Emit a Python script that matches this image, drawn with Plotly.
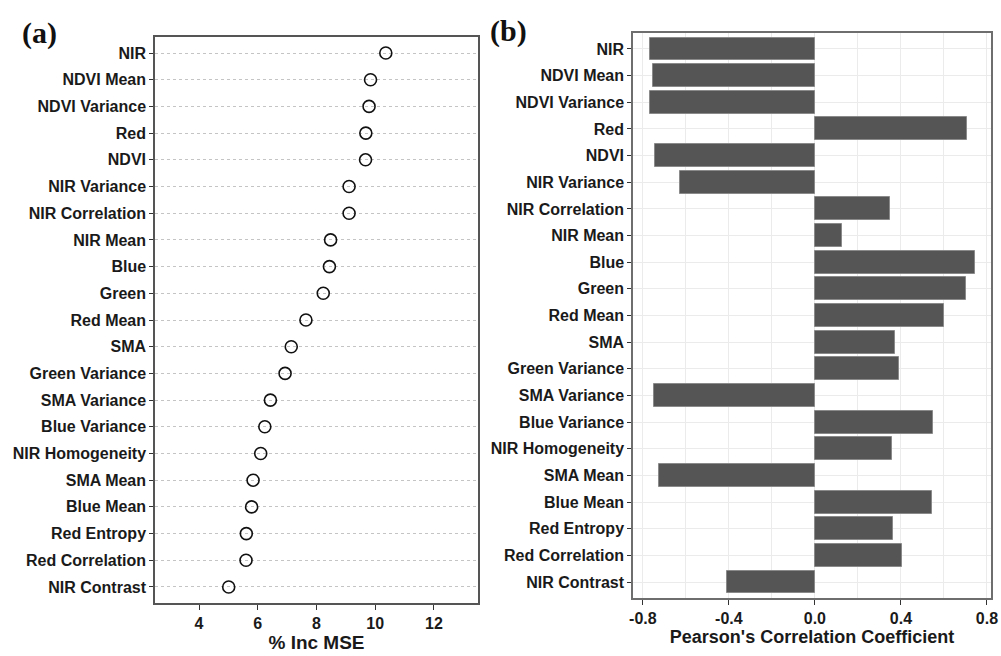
import plotly.graph_objects as go

# Variable names, top to bottom
features = [
    "NIR", "NDVI Mean", "NDVI Variance", "Red", "NDVI", "NIR Variance",
    "NIR Correlation", "NIR Mean", "Blue", "Green", "Red Mean", "SMA",
    "Green Variance", "SMA Variance", "Blue Variance", "NIR Homogeneity",
    "SMA Mean", "Blue Mean", "Red Entropy", "Red Correlation", "NIR Contrast",
]

# (a) random forest importance, % increase in MSE
inc_mse = [
    10.36, 9.84, 9.79, 9.68, 9.67, 9.11, 9.11, 8.48, 8.44, 8.23, 7.64,
    7.14, 6.93, 6.43, 6.24, 6.10, 5.84, 5.79, 5.61, 5.60, 5.01,
]

# (b) Pearson's correlation coefficient
pearson_r = [
    -0.767, -0.755, -0.767, 0.709, -0.743, -0.626, 0.349, 0.126, 0.743,
    0.704, 0.602, 0.371, 0.389, -0.750, 0.549, 0.358, -0.727, 0.544,
    0.364, 0.403, -0.409,
]

x_ticks_a = [4, 6, 8, 10, 12]
x_ticks_b = [-0.8, -0.4, 0.0, 0.4, 0.8]
x_ticktext_b = ["-0.8", "-0.4", "0.0", "0.4", "0.8"]

W, H = 1001, 656
font_family = "Liberation Sans, Arial, sans-serif"
tick_font = dict(family=font_family, size=16, color="#1a1a1a", weight="bold")
xtick_font = dict(family=font_family, size=16, color="#1a1a1a", weight="bold")

fig = go.Figure()

fig.add_trace(go.Scatter(
    x=inc_mse, y=features, mode="markers",
    marker=dict(symbol="circle-open", size=12, color="#111111",
                line=dict(width=1.6, color="#111111")),
    xaxis="x", yaxis="y", showlegend=False, hoverinfo="x+y",
))

fig.add_trace(go.Bar(
    x=pearson_r, y=features, orientation="h", width=0.86,
    marker=dict(color="#555555", line=dict(color="#8a8a8a", width=1)),
    xaxis="x2", yaxis="y2", showlegend=False,
))

fig.update_layout(
    width=W, height=H,
    margin=dict(l=0, r=0, t=0, b=0),
    paper_bgcolor="white", plot_bgcolor="white",
    font=dict(family=font_family, color="#1a1a1a"),
    bargap=0,
    xaxis=dict(
        domain=[155 / W, 478 / W], anchor="y", range=[2.5, 13.5],
        tickvals=x_ticks_a, ticks="outside", ticklen=5, tickcolor="#333",
        tickfont=xtick_font,
        showgrid=False, zeroline=False,
        showline=True, mirror=True, linecolor="#555555", linewidth=1.5,
        title=dict(text="<b>% Inc MSE</b>", font=dict(size=19), standoff=2),
        automargin=False,
    ),
    yaxis=dict(
        domain=[1 - 603 / H, 1 - 37 / H], anchor="x",
        type="category", categoryorder="array", categoryarray=features,
        range=[len(features) - 0.4, -0.6],
        ticks="outside", ticklen=4, tickcolor="#333",
        tickfont=tick_font,
        showgrid=True, gridcolor="#c4c4c4", griddash="dot", gridwidth=1,
        zeroline=False,
        showline=True, mirror=True, linecolor="#555555", linewidth=1.5,
        automargin=False,
    ),
    xaxis2=dict(
        domain=[633 / W, 991 / W], anchor="y2", range=[-0.846, 0.819],
        tickvals=x_ticks_b, ticktext=x_ticktext_b,
        ticks="outside", ticklen=5, tickcolor="#333",
        tickfont=xtick_font,
        showgrid=True, gridcolor="#ebebeb", gridwidth=1.2,
        minor=dict(dtick=0.2, tick0=0, showgrid=True, gridcolor="#ebebeb",
                   gridwidth=1.2),
        zeroline=False,
        showline=True, mirror=True, linecolor="#6e6e6e", linewidth=1.5,
        title=dict(text="<b>Pearson's Correlation Coefficient</b>",
                   font=dict(size=18), standoff=2),
        automargin=False,
    ),
    yaxis2=dict(
        domain=[1 - 598 / H, 1 - 33 / H], anchor="x2",
        type="category", categoryorder="array", categoryarray=features,
        range=[len(features) - 0.4, -0.6],
        ticks="outside", ticklen=4, tickcolor="#333",
        tickfont=tick_font,
        showgrid=True, gridcolor="#ebebeb", gridwidth=1.2,
        zeroline=False,
        showline=True, mirror=True, linecolor="#6e6e6e", linewidth=1.5,
        automargin=False,
    ),
    annotations=[
        dict(text="<b>(a)</b>", x=20 / W, y=1 - 33 / H, xref="paper",
             yref="paper", xanchor="left", yanchor="middle", showarrow=False,
             font=dict(family="Liberation Serif, Times New Roman, serif",
                       size=30, color="#111")),
        dict(text="<b>(b)</b>", x=488 / W, y=1 - 31 / H, xref="paper",
             yref="paper", xanchor="left", yanchor="middle", showarrow=False,
             font=dict(family="Liberation Serif, Times New Roman, serif",
                       size=30, color="#111")),
    ],
)

fig.write_html("out.html")
